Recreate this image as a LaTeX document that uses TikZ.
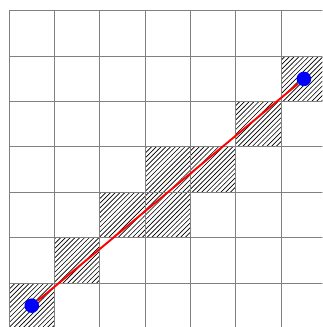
\documentclass[tikz,border=0pt]{standalone}
\usetikzlibrary{patterns}
\begin{document}
\begin{tikzpicture}[
    cell/.style={pattern=north east lines, pattern color=black},
    dot/.style={circle, fill=blue, inner sep=0pt, minimum size=0.32cm},
    seg/.style={red, line width=1.2pt}
]
    \useasboundingbox (-0.2,0.03) rectangle (6.91,7.24);
    \clip (-0.2,0.03) rectangle (6.91,7.24);

    % Cases travers\'ees
    \foreach \c/\r in {0/0, 1/1, 2/2, 3/2, 3/3, 4/3, 5/4, 6/5}
        \fill[cell] (\c,\r) rectangle ++(1,1);

    % Grille
    \draw[gray, line width=0.6pt] (0,0) grid (7,7);

    % Extr\'emit\'es
    \node[dot] (p0) at (0.5,0.5) {};
    \node[dot] (p1) at (6.5,5.5) {};

    % Segment
    \draw[seg] (p0) -- (p1);
\end{tikzpicture}
\end{document}
